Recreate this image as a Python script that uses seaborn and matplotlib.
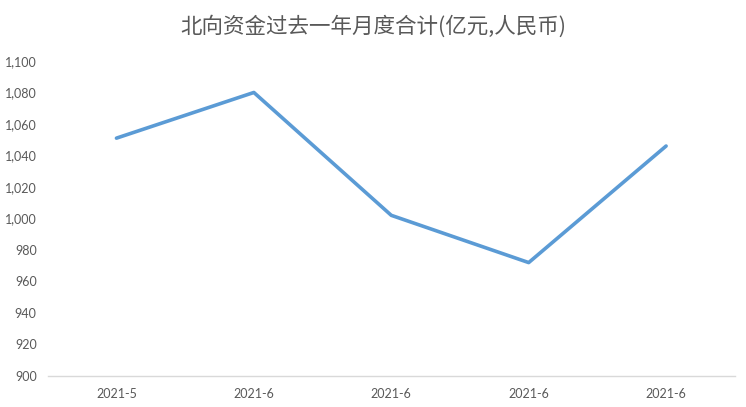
import numpy as np
import matplotlib
matplotlib.use('Agg')
import matplotlib.pyplot as plt
import matplotlib.ticker as mticker
import seaborn as sns

# Data
months = ['2021-5', '2021-6', '2021-6', '2021-6', '2021-6']
values = [1051, 1080, 1002, 972, 1046]
title = '北向资金过去一年月度合计(亿元,人民币)'

sns.set_style('white')
plt.rcParams['font.family'] = ['Lato', 'Noto Sans CJK SC', 'DejaVu Sans']

fig = plt.figure(figsize=(7.46, 4.07), dpi=100)
ax = fig.add_axes([0.064, 0.0762, 0.921, 0.774])

pos = np.arange(len(months))
sns.lineplot(x=pos, y=values, ax=ax, color='#5B9BD5', linewidth=2.6)

ax.set_xlim(-0.5, len(months) - 0.5)
ax.set_ylim(900, 1100)
ax.set_yticks(np.arange(900, 1101, 20))
ax.yaxis.set_major_formatter(mticker.FuncFormatter(lambda v, p: f'{v:,.0f}'))

ax.set_xticks(pos)
ax.set_xticklabels(months)
ax.set_xticks(np.arange(-0.5, len(months), 1), minor=True)
ax.tick_params(axis='x', which='major', length=0, pad=9, labelsize=9, labelcolor='#595959')
ax.tick_params(axis='x', which='minor', length=5, color='#D9D9D9', width=1)
ax.tick_params(axis='y', length=0, pad=8, labelsize=9, labelcolor='#595959')

for s in ['top', 'right', 'left']:
    ax.spines[s].set_visible(False)
ax.spines['bottom'].set_color('#D9D9D9')
ax.spines['bottom'].set_linewidth(1)
ax.grid(False)

fig.text(0.5, 0.935, title, ha='center', va='center', fontsize=15.5,
         color='#595959', family=['Noto Sans CJK SC', 'DejaVu Sans'])

fig.savefig('out.png', dpi=100)
